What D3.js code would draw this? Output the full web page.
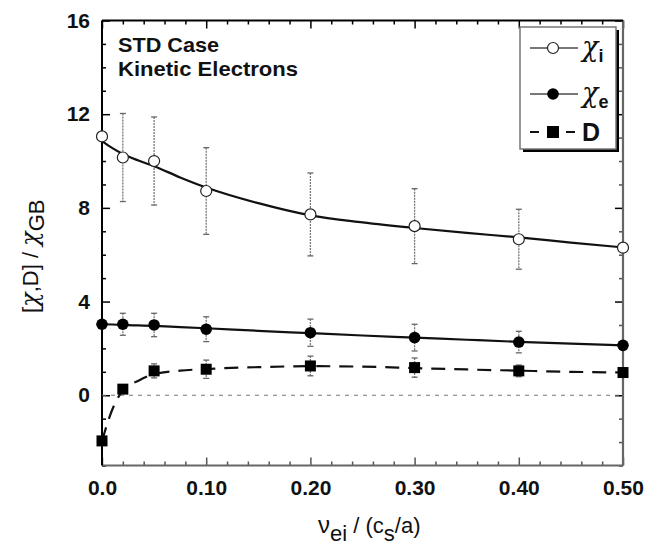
<!DOCTYPE html>
<html><head><meta charset="utf-8">
<script src="https://cdn.jsdelivr.net/npm/d3@7"></script>
<style>
html,body{margin:0;padding:0;background:#fff;}
svg{display:block;}
text{font-family:"Liberation Sans",Arial,Helvetica,sans-serif;}
</style></head>
<body>
<svg id="chart" width="645" height="549"></svg>
<script>
// ---- data ----
const xVals = [0, 0.02, 0.05, 0.1, 0.2, 0.3, 0.4, 0.5];
const chiI = [11.05, 10.15, 10.0, 8.72, 7.72, 7.22, 6.66, 6.30];
const chiIErr = [0, 1.88, 1.88, 1.85, 1.77, 1.6, 1.28, 0];
const chiE = [3.03, 3.03, 3.0, 2.82, 2.67, 2.46, 2.27, 2.13];
const chiEErr = [0, 0.47, 0.5, 0.53, 0.58, 0.57, 0.46, 0];
const dVals = [-1.95, 0.26, 1.04, 1.11, 1.25, 1.18, 1.04, 0.97];
const dErr = [0, 0.1, 0.3, 0.39, 0.42, 0.41, 0.25, 0];

const fitX = [0, 0.01, 0.02, 0.035, 0.05, 0.075, 0.1, 0.15, 0.2, 0.25, 0.3, 0.35, 0.4, 0.45, 0.5];
const chiIFit = [10.85, 10.55, 10.3, 10.02, 9.78, 9.3, 8.87, 8.2, 7.68, 7.38, 7.14, 6.93, 6.74, 6.52, 6.31];
const chiEFit = [3.03, 3.02, 3.0, 2.98, 2.96, 2.91, 2.86, 2.75, 2.65, 2.55, 2.46, 2.37, 2.28, 2.2, 2.13];
const dFit = [-1.95, -0.6, 0.2, 0.62, 0.9, 1.05, 1.12, 1.2, 1.24, 1.22, 1.16, 1.1, 1.05, 1.0, 0.97];

const xTicks = [0, 0.1, 0.2, 0.3, 0.4, 0.5];
const xTickLabels = ["0.0", "0.10", "0.20", "0.30", "0.40", "0.50"];
const yTicks = [0, 4, 8, 12, 16];
const yTickLabels = ["0", "4", "8", "12", "16"];
const legendLabels = ["χ", "χ", "D"];
const legendSubs = ["i", "e", ""];
const titleLines = ["STD Case", "Kinetic Electrons"];

// ---- layout ----
const L = 102, R = 623, T = 20.5, B = 465.5;
const x = d3.scaleLinear().domain([0, 0.5]).range([L, R]);
const y = d3.scaleLinear().domain([-3, 16]).range([B, T]);
const svg = d3.select("#chart");

const minorX = d3.range(0, 0.5001, 0.02).map(v => +v.toFixed(2)).filter(v => Math.abs(v * 10 - Math.round(v * 10)) > 1e-6);
const minorY = d3.range(-3, 17, 1).filter(v => v % 4 !== 0);

function styleAxis(g, color) {
  g.select(".domain").remove();
  g.selectAll(".tick line").attr("stroke", color).attr("stroke-width", 1.5);
  g.selectAll(".tick text").attr("font-size", 21).attr("font-weight", "bold").attr("fill", "#111")
    .attr("font-family", "'Liberation Sans', Arial, sans-serif");
}

// bottom axis
const gB = svg.append("g").attr("transform", `translate(0,${B})`)
  .call(d3.axisBottom(x).tickValues(xTicks).tickSize(-8).tickPadding(15)
    .tickFormat((d, i) => xTickLabels[i]));
styleAxis(gB, "#555");
const gBm = svg.append("g").attr("transform", `translate(0,${B})`)
  .call(d3.axisBottom(x).tickValues(minorX).tickSize(-4).tickFormat(""));
styleAxis(gBm, "#555");
// top axis
const gT = svg.append("g").attr("transform", `translate(0,${T})`)
  .call(d3.axisTop(x).tickValues(xTicks).tickSize(-8).tickFormat(""));
styleAxis(gT, "#000");
const gTm = svg.append("g").attr("transform", `translate(0,${T})`)
  .call(d3.axisTop(x).tickValues(minorX).tickSize(-4).tickFormat(""));
styleAxis(gTm, "#000");
// left axis
const gL = svg.append("g").attr("transform", `translate(${L},0)`)
  .call(d3.axisLeft(y).tickValues(yTicks).tickSize(-8).tickPadding(12)
    .tickFormat((d, i) => yTickLabels[i]));
styleAxis(gL, "#000");
const gLm = svg.append("g").attr("transform", `translate(${L},0)`)
  .call(d3.axisLeft(y).tickValues(minorY).tickSize(-4).tickFormat(""));
styleAxis(gLm, "#000");
// right axis
const gR = svg.append("g").attr("transform", `translate(${R},0)`)
  .call(d3.axisRight(y).tickValues(yTicks).tickSize(-8).tickFormat(""));
styleAxis(gR, "#000");
const gRm = svg.append("g").attr("transform", `translate(${R},0)`)
  .call(d3.axisRight(y).tickValues(minorY).tickSize(-4).tickFormat(""));
styleAxis(gRm, "#555");

// frame
svg.append("line").attr("x1", L).attr("x2", R).attr("y1", B).attr("y2", B).attr("stroke", "#666").attr("stroke-width", 2.2);
svg.append("line").attr("x1", R).attr("x2", R).attr("y1", T).attr("y2", B).attr("stroke", "#666").attr("stroke-width", 2.2);
svg.append("line").attr("x1", L).attr("x2", R).attr("y1", T).attr("y2", T).attr("stroke", "#000").attr("stroke-width", 2);
svg.append("line").attr("x1", L).attr("x2", L).attr("y1", T).attr("y2", B).attr("stroke", "#000").attr("stroke-width", 2);

// zero line
svg.append("line").attr("x1", L).attr("x2", R).attr("y1", y(0)).attr("y2", y(0))
  .attr("stroke", "#777").attr("stroke-width", 1.2).attr("stroke-dasharray", "4,5");

// fits
const line = d3.line().x(d => x(d[0])).y(d => y(d[1])).curve(d3.curveMonotoneX);
svg.append("path").attr("d", line(fitX.map((v, i) => [v, chiIFit[i]])))
  .attr("fill", "none").attr("stroke", "#111").attr("stroke-width", 2.2);
svg.append("path").attr("d", line(fitX.map((v, i) => [v, chiEFit[i]])))
  .attr("fill", "none").attr("stroke", "#111").attr("stroke-width", 2.2);
svg.append("path").attr("d", line(fitX.map((v, i) => [v, dFit[i]])))
  .attr("fill", "none").attr("stroke", "#111").attr("stroke-width", 2.2).attr("stroke-dasharray", "14,9");

// error bars
function errBars(vals, errs) {
  const g = svg.append("g");
  xVals.forEach((xv, i) => {
    if (!errs[i]) return;
    const cx = x(xv), y1 = y(vals[i] + errs[i]), y2 = y(vals[i] - errs[i]);
    g.append("line").attr("x1", cx).attr("x2", cx).attr("y1", y1).attr("y2", y2)
      .attr("stroke", "#777").attr("stroke-width", 1.3).attr("stroke-dasharray", "2,1");
    [y1, y2].forEach(yy => g.append("line").attr("x1", cx - 3).attr("x2", cx + 3).attr("y1", yy).attr("y2", yy)
      .attr("stroke", "#666").attr("stroke-width", 1.3));
  });
}
errBars(chiI, chiIErr);
errBars(chiE, chiEErr);
errBars(dVals, dErr);

// markers
svg.append("g").selectAll("circle").data(xVals).join("circle")
  .attr("cx", d => x(d)).attr("cy", (d, i) => y(chiI[i])).attr("r", 5.5)
  .attr("fill", "#fff").attr("stroke", "#222").attr("stroke-width", 1.2);
svg.append("g").selectAll("circle").data(xVals).join("circle")
  .attr("cx", d => x(d)).attr("cy", (d, i) => y(chiE[i])).attr("r", 5.8)
  .attr("fill", "#000");
svg.append("g").selectAll("rect").data(xVals).join("rect")
  .attr("x", d => x(d) - 5.5).attr("y", (d, i) => y(dVals[i]) - 5.5).attr("width", 11).attr("height", 11)
  .attr("fill", "#000");

// title text
svg.append("g").selectAll("text").data(titleLines).join("text")
  .attr("x", 118).attr("y", (d, i) => 52 + i * 24).attr("font-size", 21).attr("font-weight", "bold")
  .attr("fill", "#111").attr("textLength", (d, i) => i === 0 ? 101 : 180).attr("lengthAdjust", "spacingAndGlyphs")
  .text(d => d);

// legend
const lg = svg.append("g");
lg.append("rect").attr("x", 523).attr("y", 30).attr("width", 96).attr("height", 122).attr("fill", "#000");
lg.append("rect").attr("x", 520).attr("y", 27).attr("width", 96).attr("height", 122)
  .attr("fill", "#fff").attr("stroke", "#777").attr("stroke-width", 1.5);
const ly = [48, 94, 132];
ly.forEach((yy, i) => {
  const ln = lg.append("line").attr("x1", 530).attr("x2", 578).attr("y1", yy).attr("y2", yy)
    .attr("stroke", i < 2 ? "#777" : "#111").attr("stroke-width", 2);
  if (i === 2) ln.attr("stroke-dasharray", "9,9");
  if (i === 0) lg.append("circle").attr("cx", 553).attr("cy", yy).attr("r", 5.5).attr("fill", "#fff").attr("stroke", "#222").attr("stroke-width", 1.2);
  if (i === 1) lg.append("circle").attr("cx", 553).attr("cy", yy).attr("r", 5.8).attr("fill", "#000");
  if (i === 2) lg.append("rect").attr("x", 547).attr("y", yy - 6).attr("width", 12).attr("height", 12).attr("fill", "#000");
  const t = lg.append("text").attr("x", 582).attr("y", yy + 8).attr("fill", "#111");
  if (i < 2) {
    t.append("tspan").attr("font-size", 27).attr("font-style", "italic").attr("font-family", "'DejaVu Serif', serif").text(legendLabels[i]);
    t.append("tspan").attr("font-size", 18).attr("font-weight", "bold").attr("dy", 6).text(legendSubs[i]);
  } else {
    t.attr("font-size", 25).attr("font-weight", "bold").attr("y", yy + 9).text(legendLabels[i]);
  }
});

// x axis label
const xl = svg.append("text").attr("x", 318).attr("y", 533).attr("font-size", 22).attr("fill", "#111");
xl.append("tspan").attr("font-size", 24).text("ν");
xl.append("tspan").attr("dy", 8).text("ei");
xl.append("tspan").attr("dy", -8).text(" /  (c");
xl.append("tspan").attr("dy", 8).text("s");
xl.append("tspan").attr("dy", -8).text("/a)");

// y axis label
const yl = svg.append("text").attr("transform", "translate(38,313) rotate(-90)").attr("font-size", 22).attr("fill", "#111");
yl.append("tspan").text("[");
yl.append("tspan").attr("font-style", "italic").attr("font-family", "'DejaVu Serif', serif").attr("font-size", 24).text("χ");
yl.append("tspan").text(",D]  /  ");
yl.append("tspan").attr("font-style", "italic").attr("font-family", "'DejaVu Serif', serif").attr("font-size", 24).text("χ");
yl.append("tspan").attr("dy", 6).text("GB");
</script>
</body></html>
